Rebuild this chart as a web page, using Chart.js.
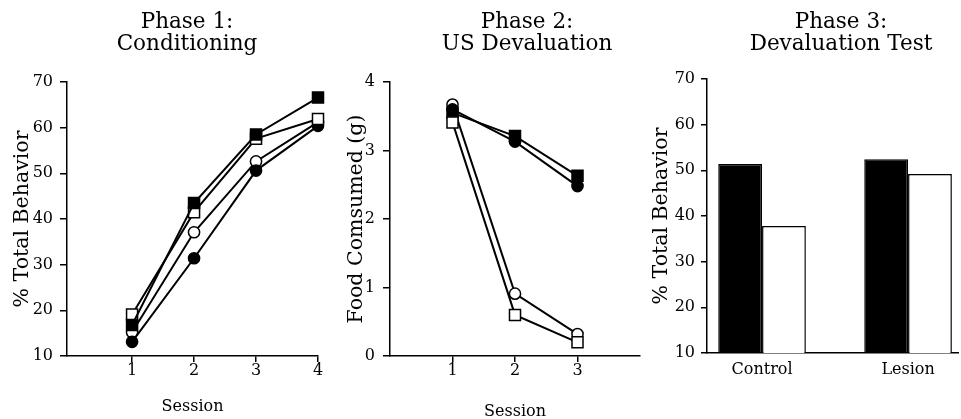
<!DOCTYPE html>
<html><head><meta charset="utf-8">
<script src="https://cdn.jsdelivr.net/npm/chart.js@4.4.0/dist/chart.umd.min.js"></script>
<style>
html,body{margin:0;padding:0;background:#fff;overflow:hidden;width:961px;height:419px;position:relative;}
.p{position:absolute;top:0;height:419px;}
</style></head><body>
<div class="p" style="left:0;width:374px"><canvas id="c1"></canvas></div>
<div class="p" style="left:322px;width:410px"><canvas id="c2"></canvas></div>
<div class="p" style="left:640px;width:402px"><canvas id="c3"></canvas></div>
<script>
// ---- data ----
const sessionsP1 = [1, 2, 3, 4];
const p1FilledSquare = [16.8, 43.5, 58.5, 66.6];
const p1OpenSquare   = [19.1, 41.5, 57.6, 61.9];
const p1OpenCircle   = [15.2, 37.1, 52.6, 61.2];
const p1FilledCircle = [13.1, 31.4, 50.6, 60.4];
const yTicksP1 = [10, 20, 30, 40, 50, 60, 70];

const sessionsP2 = [1, 2, 3];
const p2FilledSquare = [3.55, 3.21, 2.63];
const p2FilledCircle = [3.60, 3.13, 2.48];
const p2OpenCircle   = [3.67, 0.91, 0.32];
const p2OpenSquare   = [3.41, 0.60, 0.20];
const yTicksP2 = [0, 1, 2, 3, 4];

const groupsP3 = ['Control', 'Lesion'];
const p3Filled = [51.4, 52.4];
const p3Open   = [37.8, 49.2];
const yTicksP3 = [10, 20, 30, 40, 50, 60, 70];

// ---- helpers ----
Chart.defaults.font.family = "'DejaVu Serif', serif";
Chart.defaults.color = '#000';
Chart.defaults.animation = false;

function lineDS(xs, ys, filled, shape, order) {
  return {
    data: xs.map((x, i) => ({x: x, y: ys[i]})),
    borderColor: '#000', borderWidth: 2,
    pointStyle: shape, pointRadius: shape === 'rect' ? 7.8 : 5.6,
    pointBackgroundColor: filled ? '#000' : '#fff',
    pointBorderColor: '#000', pointBorderWidth: 1.5,
    order: order, clip: false, tension: 0
  };
}
function spacer(w) {
  return {type: 'linear', position: 'right', display: true,
    ticks: {display: false}, grid: {display: false}, border: {display: false},
    afterFit(s) { s.width = w; }};
}
function yAxis(min, max, ticks, title, titlePad, width, tickLen, tickPad) {
  return {type: 'linear', position: 'left', min: min, max: max,
    afterBuildTicks(s) { s.ticks = ticks.map(v => ({value: v})); },
    afterFit(s) { s.width = width; },
    ticks: {font: {size: 16}, padding: tickPad, color: '#000'},
    grid: {drawOnChartArea: false, drawTicks: true, tickLength: tickLen, color: '#000', lineWidth: 1.5},
    border: {display: true, color: '#000', width: 1.5},
    title: {display: true, text: title, font: {size: 20.5, lineHeight: 1.2}, padding: {top: titlePad, bottom: 0}, color: '#000'}
  };
}
function xSession(min, max, ticks, height, titlePadBottom) {
  return {type: 'linear', position: 'bottom', min: min, max: max,
    afterBuildTicks(s) { s.ticks = ticks.map(v => ({value: v})); },
    afterFit(s) { s.height = height; },
    ticks: {font: {size: 16, lineHeight: 1}, padding: 1, maxRotation: 0, color: '#000'},
    grid: {drawOnChartArea: false, drawTicks: true, tickLength: 6, color: '#000', lineWidth: 1.5},
    border: {display: true, color: '#000', width: 1.5},
    title: {display: true, text: 'Session', font: {size: 16, lineHeight: 1}, padding: {top: 0, bottom: titlePadBottom}, color: '#000'}
  };
}
function titleOpts(lines, padBottom) {
  return {display: true, text: lines, color: '#000', fullSize: true,
    font: {size: 21.5, lineHeight: 1.03, weight: 'normal'},
    padding: {top: 11, bottom: padBottom}};
}
const commonPlugins = {legend: {display: false}, tooltip: {enabled: false}};

// ---- Phase 1 ----
new Chart(document.getElementById('c1'), {
  type: 'line',
  data: {datasets: [
    lineDS(sessionsP1, p1FilledSquare, true, 'rect', 0),
    lineDS(sessionsP1, p1OpenSquare, false, 'rect', 1),
    lineDS(sessionsP1, p1FilledCircle, true, 'circle', 2),
    lineDS(sessionsP1, p1OpenCircle, false, 'circle', 3)
  ]},
  options: {
    responsive: true, maintainAspectRatio: false,
    layout: {padding: 0},
    plugins: Object.assign({title: titleOpts(['Phase 1:', 'Conditioning'], 26.7)}, commonPlugins),
    scales: {
      x: xSession(-0.05, 4, sessionsP1, 63, 4),
      y: yAxis(10, 70, yTicksP1, '% Total Behavior', 10.7, 67, 7, 7),
      sp: spacer(56)
    }
  }
});

// ---- Phase 2 ----
new Chart(document.getElementById('c2'), {
  type: 'line',
  data: {datasets: [
    lineDS(sessionsP2, p2OpenSquare, false, 'rect', 0),
    lineDS(sessionsP2, p2FilledSquare, true, 'rect', 1),
    lineDS(sessionsP2, p2FilledCircle, true, 'circle', 2),
    lineDS(sessionsP2, p2OpenCircle, false, 'circle', 3)
  ]},
  options: {
    responsive: true, maintainAspectRatio: false,
    layout: {padding: 0},
    plugins: Object.assign({title: titleOpts(['Phase 2:', 'US Devaluation'], 26.7)}, commonPlugins),
    scales: {
      x: xSession(0, 4, sessionsP2, 63, -1),
      y: yAxis(0, 4, yTicksP2, 'Food Comsumed (g)', 22.7, 68, 7, 8),
      sp: spacer(92)
    }
  }
});

// ---- Phase 3 ----
new Chart(document.getElementById('c3'), {
  type: 'bar',
  data: {datasets: [
    {data: groupsP3.map((g, i) => ({x: i, y: p3Filled[i]})), backgroundColor: '#000', borderColor: '#000', borderWidth: 1.5,
     categoryPercentage: 0.6, barPercentage: 1.0},
    {data: groupsP3.map((g, i) => ({x: i, y: p3Open[i]})), backgroundColor: '#fff', borderColor: '#000', borderWidth: 1.5,
     categoryPercentage: 0.6, barPercentage: 1.0}
  ]},
  options: {
    responsive: true, maintainAspectRatio: false,
    layout: {padding: 0},
    plugins: Object.assign({title: titleOpts(['Phase 3:', 'Devaluation Test'], 23.7)}, commonPlugins),
    scales: {
      x: {type: 'linear', position: 'bottom', min: -0.377, max: 1.342, offset: false,
        afterBuildTicks(s) { s.ticks = groupsP3.map((g, i) => ({value: i})); },
        afterFit(s) { s.height = 66; },
        ticks: {callback: (v) => groupsP3[v], font: {size: 16, lineHeight: 1.2}, padding: 7, maxRotation: 0, color: '#000'},
        grid: {drawOnChartArea: false, drawTicks: false, offset: false},
        border: {display: true, color: '#000', width: 1.5}
      },
      y: yAxis(10, 70, yTicksP3, '% Total Behavior', 9.7, 67, 6, 6),
      sp: spacer(84)
    }
  }
});
</script>
</body></html>
